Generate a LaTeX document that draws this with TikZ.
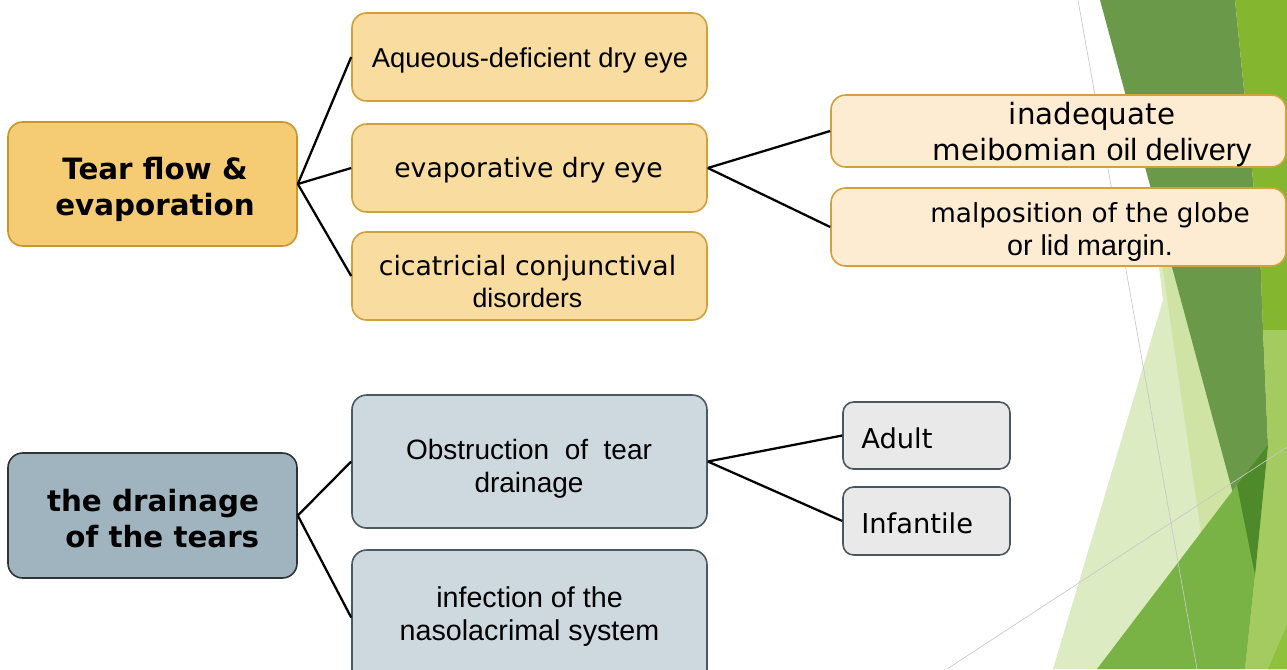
\documentclass[tikz,border=0pt]{standalone}
\usepackage{fontspec}
\setmainfont{DejaVu Sans}
\newfontfamily\arialf{Liberation Sans}
\definecolor{paleg}{HTML}{DDEBC3}
\definecolor{medpaleg}{HTML}{CFE3A5}
\definecolor{darkg}{HTML}{6A9A49}
\definecolor{brightg}{HTML}{85B630}
\definecolor{lightg}{HTML}{A3CB60}
\definecolor{medg}{HTML}{79B345}
\definecolor{deepg}{HTML}{4E8A2A}
\definecolor{yellg}{HTML}{8FC13C}
\definecolor{rootAfill}{HTML}{F5CB73}
\definecolor{rootAdraw}{HTML}{C9962E}
\definecolor{midAfill}{HTML}{F9DCA0}
\definecolor{midAdraw}{HTML}{D0A03A}
\definecolor{leafAfill}{HTML}{FDEBD2}
\definecolor{leafAdraw}{HTML}{D4A03A}
\definecolor{rootBfill}{HTML}{9FB4BE}
\definecolor{rootBdraw}{HTML}{2E3436}
\definecolor{midBfill}{HTML}{CDD9DE}
\definecolor{midBdraw}{HTML}{4B5A61}
\definecolor{leafBfill}{HTML}{E9E9E9}
\definecolor{leafBdraw}{HTML}{4A5660}
\begin{document}
\begin{tikzpicture}[x=0.75pt,y=-0.75pt,
  box/.style={draw, rounded corners=11pt, line width=1.2pt, inner sep=0pt},
  smallbox/.style={box, rounded corners=8pt},
  rootA/.style={box, fill=rootAfill, draw=rootAdraw, minimum width=216.75pt, minimum height=93pt},
  midA/.style={box, fill=midAfill, draw=midAdraw, minimum width=266.25pt, minimum height=66pt},
  leafA/.style={box, fill=leafAfill, draw=leafAdraw, minimum width=341.25pt},
  rootB/.style={box, fill=rootBfill, draw=rootBdraw, minimum width=216.75pt, minimum height=93.75pt},
  midB/.style={box, fill=midBfill, draw=midBdraw, minimum width=266.25pt},
  leafB/.style={smallbox, fill=leafBfill, draw=leafBdraw, minimum width=125.25pt},
  txt/.style={align=center, inner sep=0pt},
  boldtxt/.style={txt, font=\bfseries\fontsize{22pt}{27pt}\selectfont},
  normtxt/.style={txt, font=\fontsize{20pt}{24pt}\selectfont},
  ariatxt/.style={txt, font=\arialf\fontsize{21.5pt}{24.75pt}\selectfont},
  conn/.style={draw=black, line width=1.7pt},
  bgline/.style={draw=black!22, line width=0.5pt}]
\useasboundingbox (0,0) rectangle (1287,669);
\clip (0,0) rectangle (1287,669);
% background facets
\fill[paleg] (1053,669) -- (1163,300) -- (1150,195) -- (1287,195) -- (1287,669) -- cycle;
\fill[medpaleg] (1160,250) -- (1205,560) -- (1260,560) -- (1200,250) -- cycle;
\fill[darkg] (1100,0) -- (1235,0) -- (1260,250) -- (1263,330) -- (1268,445) -- (1255,575) -- cycle;
\fill[brightg] (1235,0) -- (1287,0) -- (1287,330) -- (1263,330) -- (1260,250) -- cycle;
\fill[lightg] (1263,330) -- (1287,330) -- (1287,669) -- (1245,669) -- (1255,575) -- (1268,445) -- cycle;
\fill[medg] (1097,669) -- (1237,485) -- (1255,575) -- (1245,669) -- cycle;
\fill[deepg] (1237,485) -- (1268,445) -- (1255,575) -- cycle;
\fill[yellg] (1268,669) -- (1287,625) -- (1287,669) -- cycle;
\draw[bgline] (1078,0) -- (1197,669);
\draw[bgline] (947,669) -- (1287,447);
% upper tree
\node[rootA] (r1) at (152.5,184) {};
\node[midA] (a1) at (529.5,57) {};
\node[midA] (a2) at (529.5,168) {};
\node[midA] (a3) at (529.5,276) {};
\node[leafA, minimum height=54pt] (b1) at (1058.5,131) {};
\node[leafA, minimum height=58.5pt] (b2) at (1058.5,227) {};
\node[boldtxt] (r1t) at (155,189) {Tear flow \&\\evaporation};
\node[txt, font=\arialf\fontsize{20.5pt}{24pt}\selectfont] (a1t) at (530,60) {Aqueous-deficient dry\ eye};
\node[normtxt] (a2t) at (528.5,170) {evaporative dry eye};
\node[normtxt] (a3t) at (527.5,281) {cicatricial conjunctival\\{\arialf disorders}};
\node[txt, font=\fontsize{22pt}{27pt}\selectfont] (b1t) at (1092,135) {inadequate\\meibomian {\arialf\fontsize{23pt}{27pt}\selectfont oil delivery}};
\node[txt, font=\fontsize{19.7pt}{24.75pt}\selectfont] (b2t) at (1090,231.5) {malposition of the globe\\{\arialf\fontsize{21.5pt}{24.75pt}\selectfont or lid margin.}};
% lower tree
\node[rootB] (r2) at (152.5,515.5) {};
\node[midB, minimum height=99.75pt] (c1) at (529.5,461.5) {};
\node[midB, minimum height=101.25pt] (c2) at (529.5,617.5) {};
\node[leafB, minimum height=50.25pt] (d1) at (926.5,435.5) {};
\node[leafB, minimum height=51pt] (d2) at (926.5,521) {};
\node[boldtxt] (r2t) at (153,519) {the drainage\\\hspace*{14pt}of the tears};
\node[ariatxt, font=\arialf\fontsize{21pt}{24.75pt}\selectfont] (c1t) at (529,469) {Obstruction\ \ of\ \ tear\\drainage};
\node[ariatxt] (c2t) at (529.5,617) {infection of the\\nasolacrimal system};
\node[anchor=west, txt, font=\fontsize{20.5pt}{24pt}\selectfont] (d1t) at (861,438) {Adult};
\node[anchor=west, txt, font=\fontsize{20.5pt}{24pt}\selectfont] (d2t) at (861,523) {Infantile};
% connectors
\draw[conn] (r1.east) -- (a1.west);
\draw[conn] (r1.east) -- (a2.west);
\draw[conn] (r1.east) -- (a3.west);
\draw[conn] (a2.east) -- (b1.west);
\draw[conn] (a2.east) -- (b2.west);
\draw[conn] (r2.east) -- (c1.west);
\draw[conn] (r2.east) -- (c2.west);
\draw[conn] (c1.east) -- (d1.west);
\draw[conn] (c1.east) -- (d2.west);
\end{tikzpicture}
\end{document}
